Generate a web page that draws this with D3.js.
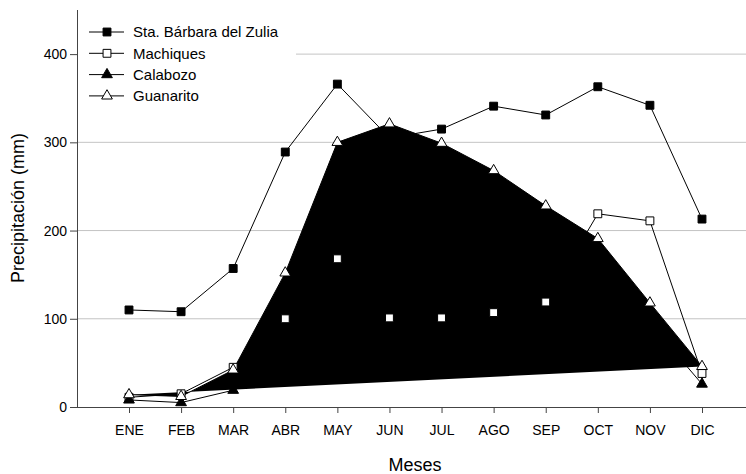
<!DOCTYPE html>
<html>
<head>
<meta charset="utf-8">
<script src="https://cdn.jsdelivr.net/npm/d3@7"></script>
<style>
  html, body { margin: 0; padding: 0; background: #fff; }
  svg { display: block; font-family: "Liberation Sans", Arial, sans-serif; }
</style>
</head>
<body>
<svg id="chart" width="746" height="474"></svg>
<script>
// Monthly precipitation (mm) at four Venezuelan stations
const months = ["ENE", "FEB", "MAR", "ABR", "MAY", "JUN", "JUL", "AGO", "SEP", "OCT", "NOV", "DIC"];
const staBarbara = [110, 108, 157, 289, 366, 305, 315, 341, 331, 363, 342, 213];
const machiques  = [11, 15, 45, 100, 168, 101, 101, 107, 119, 219, 211, 38];
const calabozo   = [8, 5, 19, 120, 250, 280, 270, 250, 210, 170, 95, 26];
const guanarito  = [14, 12, 42, 152, 300, 321, 299, 268, 228, 191, 118, 46];
const yTicks = [0, 100, 200, 300, 400];
const seriesNames = ["Sta. Bárbara del Zulia", "Machiques", "Calabozo", "Guanarito"];

const svg = d3.select("#chart");
const W = 746;
const x0 = 77, yBase = 407;

const x = d3.scalePoint().domain(months).range([129, 702]);
const y = d3.scaleLinear().domain([0, 450]).range([yBase, 10]);

// horizontal reference lines
svg.append("g").selectAll("line")
  .data(yTicks.filter(d => d > 0))
  .join("line")
  .attr("x1", x0).attr("x2", W)
  .attr("y1", d => y(d)).attr("y2", d => y(d))
  .attr("stroke", "#c4c4c4").attr("stroke-width", 1);

// Axes
const yAxis = svg.append("g")
  .attr("transform", `translate(${x0},0)`)
  .call(d3.axisLeft(y).tickValues(yTicks).tickSize(7).tickPadding(3).tickSizeOuter(0));
const xAxis = svg.append("g")
  .attr("transform", `translate(0,${yBase})`)
  .call(d3.axisBottom(x).tickSize(6).tickPadding(12).tickSizeOuter(0));
xAxis.select(".domain").attr("d", `M${x0},0.5H${W}`);
[yAxis, xAxis].forEach(a => {
  a.select(".domain").attr("stroke", "#444");
  a.selectAll(".tick line").attr("stroke", "#444");
  a.selectAll("text").attr("fill", "#000").attr("font-size", "14px")
    .attr("font-family", "'Liberation Sans', Arial, sans-serif");
});
yAxis.select(".domain").attr("d", `M0.5,${y(450)}V${yBase}`);

// Axis titles
svg.append("text")
  .attr("transform", `translate(24,${208}) rotate(-90)`)
  .attr("text-anchor", "middle")
  .attr("font-size", "18px")
  .text("Precipitación (mm)");
svg.append("text")
  .attr("x", 415).attr("y", 471)
  .attr("text-anchor", "middle")
  .attr("font-size", "18px")
  .text("Meses");

const line = d3.line().x((d, i) => x(months[i])).y(d => y(d));

// Series lines
[staBarbara, machiques, calabozo].forEach(s => {
  svg.append("path").attr("d", line(s))
    .attr("fill", "none").attr("stroke", "#000").attr("stroke-width", 1);
});
// Guanarito drawn as a closed, filled outline
svg.append("path").attr("d", line(guanarito))
  .attr("fill", "#000").attr("stroke", "#000").attr("stroke-width", 1);

// Marker shapes
const sq = d3.symbol().type(d3.symbolSquare).size(62);
const tri = d3.symbol().type(d3.symbolTriangle).size(50);
const styles = [
  { data: staBarbara, sym: sq, fill: "#000" },
  { data: machiques, sym: sq, fill: "#fff" },
  { data: calabozo, sym: tri, fill: "#000" },
  { data: guanarito, sym: tri, fill: "#fff" }
];
styles.forEach(st => {
  svg.append("g").selectAll("path")
    .data(st.data)
    .join("path")
    .attr("d", st.sym())
    .attr("transform", (d, i) => `translate(${x(months[i])},${y(d)})`)
    .attr("fill", st.fill).attr("stroke", "#000").attr("stroke-width", 1);
});

// Legend
const lg = svg.append("g");
lg.append("rect").attr("x", x0 + 1).attr("y", 18).attr("width", 218).attr("height", 92).attr("fill", "#fff");
styles.forEach((st, i) => {
  const cy = 32 + i * 21.3;
  lg.append("line").attr("x1", 89).attr("x2", 124).attr("y1", cy).attr("y2", cy)
    .attr("stroke", "#000").attr("stroke-width", 1);
  lg.append("path").attr("d", st.sym())
    .attr("transform", `translate(107,${cy})`)
    .attr("fill", st.fill).attr("stroke", "#000").attr("stroke-width", 1);
  lg.append("text").attr("x", 133).attr("y", cy + 5.3)
    .attr("font-size", "15px").text(seriesNames[i]);
});
</script>
</body>
</html>
